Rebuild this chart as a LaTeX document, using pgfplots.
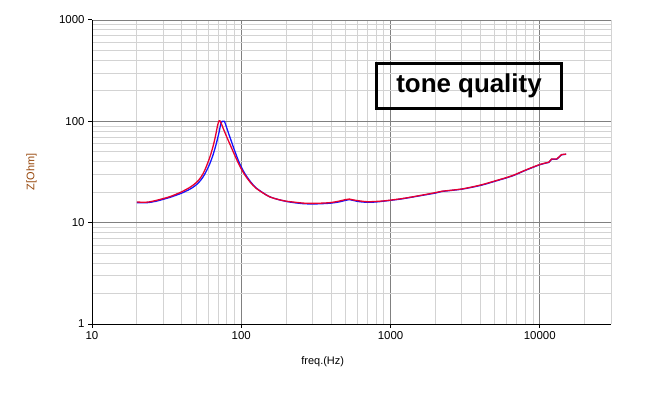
\documentclass[border=0pt]{standalone}
\usepackage{fontspec}
\setmainfont{Liberation Sans}
\usepackage{pgfplots}
\pgfplotsset{compat=1.18}
\definecolor{zred}{RGB}{232,0,48}
\definecolor{zblue}{RGB}{20,20,255}
\definecolor{majgrid}{RGB}{128,128,128}
\definecolor{mingrid}{RGB}{211,211,211}
\definecolor{ylab}{RGB}{150,70,10}
\begin{document}
\begin{tikzpicture}
\path[use as bounding box] (-92bp,-69bp) rectangle (564bp,324bp);
\begin{axis}[
  at={(0,0)}, anchor=south west,
  scale only axis, width=519bp, height=304bp,
  xmode=log, ymode=log,
  xmin=10, xmax=30000, ymin=1, ymax=1000,
  xtick={10,100,1000,10000}, xticklabels={10,100,1000,10000},
  ytick={1,10,100,1000}, yticklabels={1,10,100,1000},
  minor xtick={20,30,40,50,60,70,80,90,200,300,400,500,600,700,800,900,2000,3000,4000,5000,6000,7000,8000,9000,20000,30000},
  minor ytick={2,3,4,5,6,7,8,9,20,30,40,50,60,70,80,90,200,300,400,500,600,700,800,900},
  axis x line*=bottom, axis y line*=left,
  axis line style={black, line width=1bp},
  grid=both,
  major grid style={majgrid, line width=0.9bp},
  minor grid style={mingrid, line width=0.9bp},
  tick align=outside, major tick length=4bp, minor tick length=0pt,
  tick style={black, line width=1bp},
  ticklabel style={font=\fontsize{11.5}{13}\selectfont},
  xlabel={freq.(Hz)}, ylabel={Z[Ohm]},
  xlabel style={at={(axis description cs:0.4445,-0.124)}, anchor=center, font=\fontsize{11}{13}\selectfont},
  ylabel style={at={(axis description cs:-0.1166,0.5)}, anchor=center, font=\fontsize{11}{13}\selectfont, color=ylab},
]
\addplot[zblue, line width=1.3bp, smooth] coordinates {
(20,15.7) (22,15.7) (24,15.8) (27,16.3) (30,17.0) (33,17.7) (36,18.5) (40,19.6) (45,21.3) (48,22.6) (51,24.3) (54,26.7) (57,30.2) (61,37) (64.5,46) (68,60) (71,78) (73,95) (74.5,100) (77,100) (79,91) (82,77) (86,63) (90,52) (97,39) (105,31) (115,25.5) (125,22.2) (140,19.7) (155,18.0) (175,17.0) (200,16.2) (230,15.7) (260,15.4) (300,15.3) (350,15.4) (400,15.6) (450,16.0) (500,16.6) (530,16.9) (560,16.6) (620,16.1) (700,15.9) (800,16.0) (900,16.3) (1000,16.6) (1200,17.2) (1500,18.2) (2000,19.6) (2200,20.3) (3000,21.4) (4000,23.3) (5000,25.6) (6500,28.8) (8000,32.8) (10000,37.3) (11500,39.3)};
\addplot[zblue, line width=1.3bp] coordinates {(11500,39.3) (12000,42.3) (13000,42.3) (14000,46.8) (15000,47.3)};
\addplot[zred, line width=1.3bp, smooth] coordinates {
(20,16.0) (22,15.9) (24,16.0) (27,16.6) (30,17.3) (33,18.0) (36,18.9) (40,20.2) (45,22.2) (48,23.7) (51,25.6) (54,28.5) (57,33) (61.5,44) (65,58) (67.5,74) (69.5,92) (71,101) (72,101) (73.5,95) (76,84) (80,70) (85,57) (90,47) (97,37) (105,30) (115,25) (125,22) (140,19.6) (155,18.0) (175,17.0) (200,16.3) (230,15.9) (260,15.6) (300,15.5) (350,15.6) (400,15.8) (450,16.3) (500,16.9) (530,17.1) (560,16.8) (620,16.4) (700,16.1) (800,16.2) (900,16.4) (1000,16.7) (1200,17.3) (1500,18.3) (2000,19.8) (2200,20.4) (3000,21.5) (4000,23.5) (5000,25.8) (6500,29) (8000,33) (10000,37.5) (11500,39.5)};
\addplot[zred, line width=1.3bp] coordinates {(11500,39.5) (12000,42.5) (13000,42.5) (14000,47) (15000,47.5)};
\node[draw=black, line width=3bp, minimum width=185bp, minimum height=45bp, inner sep=0pt,
  font=\fontsize{26}{30}\selectfont\bfseries] at (rel axis cs:0.7264,0.7829) {tone quality};
\end{axis}
\end{tikzpicture}
\end{document}
